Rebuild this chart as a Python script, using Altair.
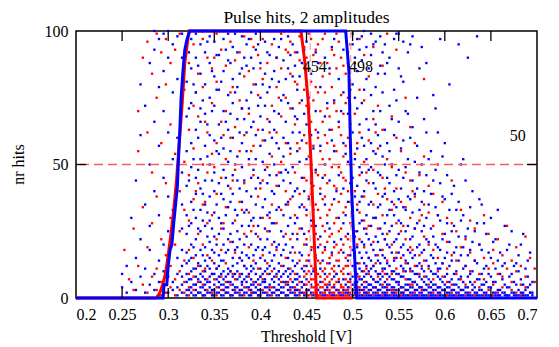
import altair as alt
import pandas as pd

# ---- curves (threshold [V], nr hits) ----
red_x = [0.2, 0.287, 0.291, 0.294, 0.297, 0.300, 0.303, 0.306, 0.309, 0.312, 0.315, 0.318, 0.3225,
         0.444, 0.448, 0.4517, 0.455, 0.458, 0.461, 0.50]
red_y = [0, 0, 2, 5, 9, 16, 24, 33, 44, 58, 72, 88, 100,
         100, 89, 74, 50, 25, 0, 0]

blue_x = [0.2, 0.2945, 0.2955, 0.2985, 0.300, 0.302, 0.304, 0.306, 0.308, 0.310, 0.3115, 0.3125,
          0.314, 0.316, 0.318, 0.3205, 0.3235, 0.4925, 0.496, 0.4975, 0.499, 0.5015, 0.5045, 0.7]
blue_y = [0, 0, 5, 5, 12, 18, 20, 28, 35, 42, 55, 62,
          75, 85, 93, 97, 100, 100, 85, 60, 40, 20, 0, 0]

# ---- scattered single hits, by column (threshold: hit counts) ----
blue_dots = {
    0.250: [4, 9], 0.255: [2, 12], 0.260: [6, 30], 0.265: [3, 15, 44],
    0.270: [8, 22, 61, 80], 0.275: [2, 11, 35, 72], 0.280: [5, 18, 27, 50, 88],
    0.285: [3, 9, 40, 66, 93, 100], 0.290: [1, 6, 14, 31, 57, 79, 97],
    0.295: [4, 10, 20, 45, 70, 85, 99], 0.300: [2, 8, 25, 38, 62, 90, 100],
    0.305: [3, 6, 33, 52, 77, 95], 0.310: [1, 4, 9, 15, 60, 82, 98],
    0.315: [2, 5, 8, 12, 18, 26, 35, 47, 90, 99],
    0.320: [1, 3, 6, 9, 13, 17, 24, 31, 42, 55, 68, 81, 94],
    0.325: [2, 4, 7, 10, 15, 20, 28, 36, 49, 58, 73, 86, 97],
    0.330: [1, 3, 5, 8, 11, 16, 22, 30, 39, 45, 63, 77, 90, 99],
    0.335: [2, 4, 6, 9, 12, 18, 25, 33, 41, 52, 66, 71, 84, 95],
    0.340: [1, 3, 5, 7, 10, 14, 19, 27, 35, 44, 57, 69, 80, 92],
    0.345: [2, 4, 6, 8, 11, 15, 21, 29, 38, 50, 61, 75, 88, 98],
    0.350: [1, 3, 5, 9, 13, 17, 23, 32, 40, 47, 59, 72, 83, 96],
    0.355: [2, 4, 6, 8, 12, 16, 24, 30, 43, 54, 65, 78, 91],
    0.360: [1, 3, 5, 7, 10, 14, 20, 26, 37, 48, 56, 70, 85, 97],
    0.365: [2, 4, 6, 9, 11, 18, 22, 34, 42, 51, 63, 76, 89, 99],
    0.370: [1, 3, 5, 8, 12, 15, 21, 28, 39, 46, 60, 73, 82, 94],
    0.375: [2, 4, 7, 10, 13, 19, 25, 31, 44, 53, 67, 79, 92],
    0.380: [1, 3, 5, 6, 9, 14, 17, 27, 36, 49, 58, 71, 86, 98],
    0.385: [2, 4, 6, 8, 11, 16, 23, 33, 40, 55, 62, 74, 87, 95],
    0.390: [1, 3, 5, 7, 10, 12, 20, 29, 38, 45, 64, 77, 90],
    0.395: [2, 4, 6, 9, 13, 18, 24, 35, 41, 52, 61, 80, 93, 99],
    0.400: [1, 3, 5, 8, 11, 15, 22, 30, 43, 57, 68, 75, 88],
    0.405: [2, 4, 6, 7, 10, 14, 19, 26, 37, 48, 59, 72, 84, 96],
    0.410: [1, 3, 5, 9, 12, 17, 25, 32, 46, 54, 66, 79, 91],
    0.415: [2, 4, 6, 8, 11, 16, 21, 28, 39, 50, 63, 70, 85, 97],
    0.420: [1, 3, 5, 7, 10, 13, 20, 34, 42, 56, 69, 81, 94],
    0.425: [2, 4, 6, 9, 12, 18, 23, 31, 44, 53, 60, 76, 89],
    0.430: [1, 3, 5, 8, 11, 15, 27, 36, 47, 58, 73, 86, 98],
    0.435: [2, 4, 6, 10, 14, 19, 24, 38, 49, 62, 71, 83, 95],
    0.440: [1, 3, 5, 7, 9, 13, 22, 30, 41, 55, 67, 78, 92],
    0.445: [2, 4, 6, 11, 16, 26, 35, 45, 59, 74, 88],
    0.450: [1, 3, 7, 12, 20, 33, 52, 65, 80, 96],
    0.455: [2, 5, 9, 18, 29, 43, 61, 84],
    0.460: [1, 4, 8, 15, 27, 48, 70, 92],
    0.465: [2, 6, 11, 23, 39, 57, 79],
    0.470: [1, 3, 9, 19, 35, 50, 68, 90],
    0.475: [2, 5, 13, 26, 44, 63, 86],
    0.480: [1, 4, 8, 21, 37, 55, 74, 97],
    0.485: [2, 6, 12, 30, 46, 66, 82],
    0.490: [1, 3, 7, 17, 28, 41, 58, 77, 93],
    0.495: [2, 4, 9, 14, 24, 36, 51, 69, 88],
    0.500: [1, 3, 5, 8, 12, 18, 27, 34, 45, 62, 80, 95, 99],
    0.505: [1, 2, 4, 6, 9, 13, 19, 25, 33, 42, 56, 71, 85, 97],
    0.510: [1, 3, 5, 7, 10, 15, 21, 29, 38, 47, 60, 73, 89, 98],
    0.515: [1, 2, 4, 6, 9, 12, 17, 24, 31, 44, 52, 67, 82, 94],
    0.520: [1, 3, 5, 8, 11, 14, 20, 27, 36, 49, 58, 76, 91, 99],
    0.525: [1, 2, 4, 6, 10, 16, 23, 30, 41, 54, 65, 79, 96],
    0.530: [1, 3, 5, 7, 9, 13, 18, 26, 35, 46, 57, 70, 87, 98],
    0.535: [1, 2, 4, 6, 11, 15, 22, 28, 39, 50, 63, 84, 95],
    0.540: [1, 3, 5, 8, 12, 19, 25, 33, 43, 55, 72, 90],
    0.545: [1, 2, 4, 7, 10, 14, 21, 31, 40, 61, 78, 97],
    0.550: [1, 3, 5, 6, 9, 17, 24, 29, 37, 48, 66, 86, 99],
    0.555: [1, 2, 4, 8, 11, 16, 20, 34, 45, 59, 81, 96],
    0.560: [1, 3, 5, 7, 13, 18, 27, 38, 52, 69, 92],
    0.565: [1, 2, 4, 6, 10, 15, 23, 32, 44, 64, 98],
    0.570: [1, 3, 5, 9, 12, 19, 28, 41, 57, 75],
    0.575: [1, 2, 4, 7, 11, 17, 25, 36, 50, 94],
    0.580: [1, 3, 5, 8, 14, 22, 30, 46, 62, 88],
    0.585: [1, 2, 4, 6, 10, 16, 26, 39, 55],
    0.590: [1, 3, 5, 9, 13, 20, 34, 48, 71],
    0.595: [1, 2, 4, 7, 11, 18, 29, 43, 97],
    0.600: [1, 3, 5, 8, 15, 24, 37, 58],
    0.605: [1, 2, 4, 6, 12, 21, 33, 80],
    0.610: [1, 3, 5, 9, 17, 27, 42],
    0.615: [1, 2, 4, 7, 14, 23, 36, 95],
    0.620: [1, 3, 6, 11, 19, 31, 52],
    0.625: [1, 2, 4, 8, 16, 26, 90],
    0.630: [1, 3, 5, 10, 21, 40],
    0.635: [1, 2, 7, 13, 28, 98],
    0.640: [1, 3, 5, 9, 18, 35],
    0.645: [1, 2, 6, 12, 24],
    0.650: [1, 4, 8, 15, 30],
    0.655: [1, 2, 6, 11, 22],
    0.660: [1, 3, 9, 17],
    0.665: [1, 2, 5, 13, 27],
    0.670: [1, 4, 8, 20],
    0.675: [1, 2, 6, 12],
    0.680: [1, 3, 10, 16],
    0.685: [1, 2, 5, 24],
    0.690: [1, 4, 8, 14],
    0.695: [1, 2, 6],
}

blue_dots_b = {
    0.3225: [3, 7, 14, 27, 44, 71, 92], 0.3275: [1, 5, 11, 19, 33, 52, 80],
    0.3325: [2, 7, 13, 26, 48, 60, 87], 0.3375: [1, 4, 8, 16, 29, 39, 74, 100],
    0.3425: [2, 6, 12, 23, 32, 53, 65, 96], 0.3475: [1, 3, 9, 18, 26, 44, 70, 85],
    0.3525: [2, 7, 11, 20, 35, 55, 78, 91], 0.3575: [1, 5, 9, 14, 28, 39, 60, 81],
    0.3625: [2, 4, 8, 17, 31, 45, 66, 93], 0.3675: [1, 6, 10, 24, 36, 55, 69, 88],
    0.3725: [2, 4, 9, 18, 33, 50, 77, 99], 0.3775: [1, 3, 8, 15, 22, 41, 62, 84],
    0.3825: [2, 7, 12, 20, 32, 44, 67, 90], 0.3875: [1, 4, 9, 15, 27, 52, 71, 97],
    0.3925: [2, 5, 11, 16, 30, 48, 66, 86], 0.3975: [1, 3, 7, 19, 27, 45, 72, 95],
    0.4025: [2, 6, 9, 18, 34, 51, 63, 80], 0.4075: [1, 4, 11, 22, 31, 43, 77, 92],
    0.4125: [2, 7, 14, 28, 40, 60, 82], 0.4175: [1, 3, 9, 19, 33, 46, 58, 90],
    0.4225: [2, 4, 8, 16, 25, 47, 74, 97], 0.4275: [1, 6, 10, 20, 35, 48, 66, 82],
    0.4325: [2, 4, 9, 17, 30, 43, 56, 91], 0.4375: [1, 3, 7, 12, 28, 40, 68, 87],
    0.4425: [2, 8, 17, 34, 51, 62, 83], 0.4475: [1, 5, 10, 24, 40, 69, 93],
    0.4525: [3, 14, 37, 75], 0.4575: [1, 10, 33, 56], 0.4625: [3, 19, 62, 88],
    0.4675: [1, 14, 45], 0.4725: [4, 28, 73], 0.4775: [1, 17, 59, 94],
    0.4825: [3, 9, 40], 0.4875: [1, 22, 70], 0.4925: [2, 5, 31, 54],
    0.4975: [1, 7, 16, 43, 78],
    0.5025: [2, 4, 6, 10, 15, 23, 38, 52, 75, 90],
    0.5075: [1, 3, 7, 11, 17, 28, 36, 49, 65, 93],
    0.5125: [2, 4, 8, 13, 20, 26, 40, 57, 78, 100],
    0.5175: [1, 3, 5, 10, 15, 22, 35, 48, 63, 86],
    0.5225: [2, 4, 7, 12, 18, 30, 43, 55, 70, 95],
    0.5275: [1, 3, 6, 9, 14, 21, 34, 47, 61, 84],
    0.5325: [2, 4, 8, 11, 16, 24, 38, 53, 77, 92],
    0.5375: [1, 3, 5, 9, 13, 20, 31, 45, 58, 88],
    0.5425: [2, 4, 7, 10, 17, 27, 36, 50, 67],
    0.5475: [1, 3, 6, 9, 15, 22, 34, 46, 74, 99],
    0.5525: [2, 4, 8, 12, 19, 28, 41, 56, 83],
    0.5575: [1, 3, 5, 10, 14, 25, 33, 49, 70],
    0.5625: [2, 4, 7, 11, 17, 22, 37, 60, 95],
    0.5675: [1, 3, 6, 9, 16, 26, 39, 51],
    0.5725: [2, 4, 8, 13, 20, 33, 47, 86],
    0.5775: [1, 3, 6, 10, 18, 27, 40, 67],
    0.5825: [2, 4, 7, 12, 21, 35, 52],
    0.5875: [1, 3, 5, 9, 15, 23, 44, 76],
    0.5925: [2, 4, 8, 11, 19, 31, 62],
    0.5975: [1, 3, 6, 13, 22, 38, 53],
    0.6025: [2, 4, 9, 17, 28, 46], 0.6075: [1, 3, 7, 14, 25, 39],
    0.6125: [2, 5, 10, 19, 33], 0.6175: [1, 3, 8, 16, 29, 50],
    0.6225: [2, 4, 12, 23, 44], 0.6275: [1, 6, 9, 18, 34],
    0.6325: [2, 4, 14, 25], 0.6375: [1, 3, 7, 20, 37], 0.6425: [2, 5, 11, 28],
    0.6475: [1, 4, 9, 17], 0.6525: [2, 6, 21], 0.6575: [1, 3, 14, 33],
    0.6625: [2, 7, 12], 0.6675: [1, 4, 18], 0.6725: [2, 9, 25],
    0.6775: [1, 5, 13], 0.6825: [2, 7, 20], 0.6875: [1, 3, 11], 0.6925: [2, 5, 17],
}

red_dots = {
    0.2525: [18], 0.2575: [7], 0.2625: [3, 26], 0.2675: [12, 55, 70],
    0.2725: [5, 34, 90], 0.2775: [2, 19, 62, 96], 0.2825: [8, 28, 47, 84],
    0.2875: [3, 11, 38, 75, 99], 0.2925: [1, 6, 22, 58, 92],
    0.2975: [2, 9, 16, 43, 80, 97], 0.3025: [4, 12, 30, 65, 88],
    0.3075: [1, 7, 20, 54, 93], 0.3125: [3, 10, 25, 40, 99],
    0.3175: [2, 6, 14, 33, 51, 78], 0.3225: [1, 4, 9, 18, 29, 46, 63, 88],
    0.3275: [3, 8, 15, 37, 56, 72, 95], 0.3325: [2, 6, 12, 24, 43, 68, 84],
    0.3375: [1, 5, 10, 20, 35, 50, 79, 97], 0.3425: [3, 7, 16, 28, 47, 62, 90],
    0.3475: [2, 9, 14, 31, 54, 73, 86], 0.3525: [1, 4, 11, 22, 39, 58, 81, 99],
    0.3575: [3, 8, 18, 26, 45, 66, 93], 0.3625: [2, 6, 13, 34, 52, 70, 87],
    0.3675: [1, 5, 10, 21, 41, 60, 77, 96], 0.3725: [3, 7, 17, 29, 48, 64, 89],
    0.3775: [2, 9, 15, 36, 55, 74, 92], 0.3825: [1, 4, 12, 24, 43, 61, 83, 98],
    0.3875: [3, 8, 19, 32, 50, 69, 85], 0.3925: [2, 6, 14, 27, 46, 57, 80, 94],
    0.3975: [1, 5, 11, 23, 38, 63, 76, 91], 0.4025: [3, 7, 16, 30, 44, 59, 82, 97],
    0.4075: [2, 9, 13, 25, 49, 67, 88], 0.4125: [1, 4, 10, 20, 35, 53, 72, 95],
    0.4175: [3, 8, 18, 28, 42, 62, 79, 90], 0.4225: [2, 6, 12, 33, 51, 68, 86, 99],
    0.4275: [1, 5, 15, 24, 40, 58, 75, 93], 0.4325: [3, 7, 11, 22, 37, 54, 71, 84, 96],
    0.4375: [2, 4, 9, 17, 31, 47, 65, 81, 92],
    0.4425: [1, 3, 6, 14, 26, 39, 56, 73, 89, 98],
    0.4475: [2, 5, 8, 12, 20, 34, 45, 61, 78, 94],
    0.4525: [1, 3, 6, 10, 16, 25, 38, 53, 69, 86, 99],
    0.4575: [2, 4, 7, 11, 19, 29, 42, 57, 74, 91],
    0.4625: [1, 3, 5, 9, 14, 22, 33, 46, 60, 77, 95],
    0.4675: [2, 4, 6, 10, 17, 27, 37, 52, 66, 83, 97],
    0.4725: [1, 3, 5, 8, 13, 21, 31, 43, 58, 71, 88],
    0.4775: [2, 4, 7, 11, 16, 24, 35, 49, 63, 79, 93],
    0.4825: [1, 3, 6, 9, 14, 20, 30, 41, 55, 70, 86, 99],
    0.4875: [2, 4, 5, 10, 18, 26, 39, 47, 61, 76, 90],
    0.4925: [1, 3, 7, 12, 15, 23, 34, 44, 57, 73, 84],
    0.4975: [2, 4, 6, 9, 19, 28, 36, 50, 65, 80, 95],
    0.5025: [1, 3, 5, 11, 17, 25, 40, 54, 69, 88],
    0.5075: [2, 4, 8, 13, 22, 32, 46, 62, 78, 97],
    0.5125: [1, 3, 6, 10, 19, 29, 38, 51, 74, 91],
    0.5175: [2, 5, 9, 15, 27, 43, 59, 83], 0.5225: [1, 4, 7, 12, 21, 35, 48, 67, 94],
    0.5275: [2, 3, 8, 16, 26, 39, 56, 72], 0.5325: [1, 5, 10, 18, 31, 45, 63, 87],
    0.5375: [2, 4, 7, 14, 24, 37, 52, 99], 0.5425: [1, 3, 9, 20, 33, 49, 68],
    0.5475: [2, 6, 11, 17, 28, 41, 60, 93], 0.5525: [1, 4, 8, 15, 25, 36, 55],
    0.5575: [3, 7, 13, 22, 34, 47, 75], 0.5625: [1, 5, 10, 19, 30, 44, 64],
    0.5675: [2, 6, 12, 26, 38, 58], 0.5725: [1, 4, 9, 16, 29, 46],
    0.5775: [3, 8, 14, 23, 35, 53, 82], 0.5825: [1, 5, 11, 20, 32, 42],
    0.5875: [2, 7, 18, 27, 39], 0.5925: [1, 4, 10, 15, 31, 50],
    0.5975: [3, 8, 13, 24, 36], 0.6025: [1, 6, 11, 21, 30],
    0.6075: [2, 5, 16, 28, 44], 0.6125: [1, 9, 14, 25], 0.6175: [3, 7, 19, 33],
    0.6225: [1, 5, 12, 22], 0.6275: [2, 10, 17, 29], 0.6325: [1, 6, 14, 26],
    0.6375: [4, 9, 20], 0.6425: [1, 7, 15, 31], 0.6475: [3, 11, 24],
    0.6525: [1, 5, 13, 18], 0.6575: [2, 9, 22], 0.6625: [4, 8, 16],
    0.6675: [1, 11, 27], 0.6725: [3, 6, 14], 0.6775: [2, 10, 19],
    0.6825: [1, 5, 12], 0.6875: [4, 8, 23], 0.6925: [2, 15], 0.6975: [6, 11],
}

red_dots_b = {
    0.330: [5, 40, 77], 0.340: [11, 36, 66], 0.350: [7, 49, 90], 0.360: [3, 28, 61],
    0.370: [9, 44, 79], 0.380: [6, 33, 71], 0.390: [2, 25, 55, 97], 0.400: [8, 41, 86],
    0.410: [4, 30, 62], 0.420: [10, 47, 75], 0.430: [6, 35, 92], 0.440: [3, 24, 58, 80],
    0.450: [2, 5, 9, 14, 22, 31, 44, 58, 72, 90],
    0.455: [1, 4, 7, 12, 19, 27, 39, 50, 66, 81, 97],
    0.460: [2, 3, 6, 10, 16, 24, 35, 47, 63, 79, 93],
    0.465: [1, 4, 8, 13, 20, 30, 41, 55, 70, 88],
    0.470: [2, 5, 7, 11, 18, 25, 38, 46, 61, 77, 99],
    0.475: [1, 3, 6, 9, 15, 23, 33, 52, 68, 84],
    0.480: [2, 5, 10, 12, 19, 28, 42, 57, 73, 91],
    0.485: [1, 3, 7, 14, 17, 25, 36, 49, 64, 96],
    0.490: [2, 4, 9, 11, 20, 32, 45, 53, 69, 87],
    0.495: [1, 3, 6, 12, 16, 22, 40, 60, 75, 92],
    0.505: [3, 8, 20, 35, 58], 0.515: [2, 11, 26, 47], 0.525: [4, 13, 30, 62],
    0.535: [1, 9, 22, 41], 0.545: [3, 15, 35], 0.555: [2, 10, 27],
    0.565: [5, 18, 40], 0.575: [3, 12, 31],
}

x_ticks = [0.2, 0.25, 0.3, 0.35, 0.4, 0.45, 0.5, 0.55, 0.6, 0.65, 0.7]
x_inner_ticks = [0.25, 0.3, 0.35, 0.4, 0.45, 0.5, 0.55, 0.6, 0.65]
y_ticks = [0, 50, 100]
half_level = [50]
edges = [0.454, 0.498]
label_text = ["454", "498", "50"]
label_x = [0.459, 0.509, 0.679]
label_y = [86.5, 86.5, 60.7]
title_text = "Pulse hits, 2 amplitudes"
x_title = "Threshold [V]"
y_title = "nr hits"

W, H = 461, 267
FONT = "Liberation Serif"

def flatten(d, name):
    rows = [{"x": k, "y": v, "s": name} for k, vals in d.items() for v in vals]
    return pd.DataFrame(rows)

dots = pd.concat([flatten(red_dots, "red"), flatten(red_dots_b, "red"),
                  flatten(blue_dots, "blue"), flatten(blue_dots_b, "blue")])
red_df = pd.DataFrame({"x": red_x, "y": red_y})
blue_df = pd.DataFrame({"x": blue_x, "y": blue_y})

xs = alt.Scale(domain=[0.2, 0.7], nice=False, zero=False)
ys = alt.Scale(domain=[0, 100], nice=False)

xax = alt.Axis(values=x_ticks, format=".2~f", title="", grid=False,
               domain=False, ticks=False, labelPadding=8,
               labelFont=FONT, labelFontSize=16, labelColor="black")
yax = alt.Axis(values=y_ticks, title="", grid=False, domain=False,
               ticks=False, labelPadding=8,
               labelFont=FONT, labelFontSize=16, labelColor="black")

dot_layer = alt.Chart(dots).mark_square(size=5.5, opacity=1, strokeWidth=0).encode(
    x=alt.X("x:Q", scale=xs, axis=xax),
    y=alt.Y("y:Q", scale=ys, axis=yax),
    color=alt.Color("s:N", scale=alt.Scale(domain=["red", "blue"], range=["#ff0000", "#0000ff"]),
                    legend=None),
)

hline = alt.Chart(pd.DataFrame({"y": half_level})).mark_rule(
    color="#ff5a5a", strokeWidth=1.4, strokeDash=[9, 5]).encode(y=alt.Y("y:Q", scale=ys))

vlines = alt.Chart(pd.DataFrame({"x": edges})).mark_rule(
    color="#ff9a9a", strokeWidth=1.2, strokeDash=[7, 5]).encode(x=alt.X("x:Q", scale=xs))

red_line = alt.Chart(red_df).mark_line(color="#ff0000", strokeWidth=3).encode(
    x=alt.X("x:Q", scale=xs), y=alt.Y("y:Q", scale=ys))
blue_line = alt.Chart(blue_df).mark_line(color="#0000ff", strokeWidth=3).encode(
    x=alt.X("x:Q", scale=xs), y=alt.Y("y:Q", scale=ys))

tick_df = pd.DataFrame({"x": x_inner_ticks})
bticks = alt.Chart(tick_df).mark_rule(color="black", strokeWidth=1.3).encode(
    x=alt.X("x:Q", scale=xs), y=alt.value(H), y2=alt.value(H - 10))
tticks = alt.Chart(tick_df).mark_rule(color="black", strokeWidth=1.3).encode(
    x=alt.X("x:Q", scale=xs), y=alt.value(0), y2=alt.value(10))
ytick_df = pd.DataFrame({"y": half_level})
lticks = alt.Chart(ytick_df).mark_rule(color="black", strokeWidth=1.3).encode(
    y=alt.Y("y:Q", scale=ys), x=alt.value(0), x2=alt.value(10))
rticks = alt.Chart(ytick_df).mark_rule(color="black", strokeWidth=1.3).encode(
    y=alt.Y("y:Q", scale=ys), x=alt.value(W), x2=alt.value(W - 10))

labels = alt.Chart(pd.DataFrame({"x": label_x, "y": label_y, "t": label_text})).mark_text(
    font=FONT, fontSize=16, color="black", align="center", baseline="middle").encode(
    x=alt.X("x:Q", scale=xs), y=alt.Y("y:Q", scale=ys), text="t:N")

title_mark = alt.Chart(pd.DataFrame({"t": [title_text]})).mark_text(
    font=FONT, fontSize=17.5, color="black", align="center", baseline="alphabetic").encode(
    x=alt.value(W / 2), y=alt.value(-8), text="t:N")
xtitle_mark = alt.Chart(pd.DataFrame({"t": [x_title]})).mark_text(
    font=FONT, fontSize=16, color="black", align="center", baseline="alphabetic").encode(
    x=alt.value(W / 2), y=alt.value(311), text="t:N")
ytitle_mark = alt.Chart(pd.DataFrame({"t": [y_title]})).mark_text(
    font=FONT, fontSize=16, color="black", align="center", baseline="alphabetic", angle=270).encode(
    x=alt.value(-52), y=alt.value(H / 2), text="t:N")

chart = alt.layer(
    dot_layer, hline, vlines, red_line, blue_line, bticks, tticks, lticks, rticks, labels,
    title_mark, xtitle_mark, ytitle_mark
).properties(
    width=W, height=H,
    autosize=alt.AutoSizeParams(type="none"),
    padding={"left": 68, "top": 23, "right": 14, "bottom": 49},
    background="white",
).configure_view(stroke="black", strokeWidth=1.5)

chart.save("out.html", embed_options={"renderer": "svg", "actions": False})
